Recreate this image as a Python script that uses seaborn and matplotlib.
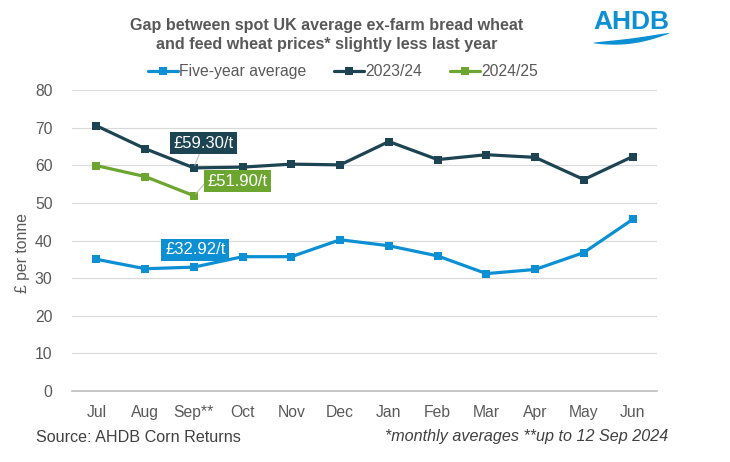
import numpy as np
import pandas as pd
import matplotlib.pyplot as plt
import seaborn as sns

# Data
months = ['Jul', 'Aug', 'Sep**', 'Oct', 'Nov', 'Dec', 'Jan', 'Feb', 'Mar', 'Apr', 'May', 'Jun']
five_year = [35.0, 32.5, 32.92, 35.7, 35.7, 40.2, 38.6, 35.9, 31.2, 32.3, 36.8, 45.6]
y2023 = [70.5, 64.4, 59.30, 59.5, 60.3, 60.1, 66.3, 61.5, 62.8, 62.1, 56.2, 62.3]
y2024 = [59.9, 57.0, 51.90]

series_names = ['Five-year average', '2023/24', '2024/25']
colors = ['#0C8FD3', '#1D4453', '#6CA52F']

rows = []
for name, vals in zip(series_names, [five_year, y2023, y2024]):
    for i, v in enumerate(vals):
        rows.append({'month': i, 'value': v, 'series': name})
df = pd.DataFrame(rows)

sns.set_theme(style='white')
plt.rcParams['font.family'] = ['Liberation Sans', 'DejaVu Sans']

fig = plt.figure(figsize=(7.3, 4.62), dpi=100)
ax = fig.add_axes([72 / 730, 1 - 391 / 462, 585 / 730, 301 / 462])

sns.lineplot(
    data=df, x='month', y='value', hue='series', hue_order=series_names,
    palette=colors, marker='s', markersize=5.5, markeredgewidth=0,
    linewidth=2.3, ax=ax, legend=True
)

ax.set_xlim(-0.5, 11.5)
ax.set_ylim(0, 80)
ax.set_yticks(range(0, 81, 10))
ax.set_xticks(range(12))
ax.set_xticklabels(months)
ax.tick_params(axis='both', length=0, labelsize=11.3, colors='#595959')
ax.tick_params(axis='x', pad=10)
ax.tick_params(axis='y', pad=14)
ax.grid(axis='y', color='#D9D9D9', linewidth=0.8)
ax.set_axisbelow(True)
for s in ['top', 'right', 'left']:
    ax.spines[s].set_visible(False)
ax.spines['bottom'].set_color('#BFBFBF')
ax.set_xlabel('')
ax.set_ylabel('£ per tonne', fontsize=11.3, color='#595959')
ax.yaxis.set_label_coords((30 - 72) / 585, (391 - 253) / 301)

leg = ax.legend(loc='lower center', bbox_to_anchor=(0.463, 1.0), ncol=3, frameon=False,
                fontsize=11.3, handlelength=1.9, columnspacing=1.75, handletextpad=0.1,
                borderaxespad=0.3)
for t in leg.get_texts():
    t.set_color('#595959')

# Value labels with leader lines
ax.annotate('£59.30/t', xy=(2, 59.3), xytext=(2.2, 65.9), fontsize=12, color='white',
            ha='center', va='center',
            bbox=dict(boxstyle='square,pad=0.22', fc=colors[1], ec='none'),
            arrowprops=dict(arrowstyle='-', color='#BFBFBF', lw=0.8, shrinkA=0, shrinkB=2,
                            relpos=(0.45, 0)))
ax.annotate('£51.90/t', xy=(2, 51.9), xytext=(2.9, 55.8), fontsize=12, color='white',
            ha='center', va='center',
            bbox=dict(boxstyle='square,pad=0.22', fc=colors[2], ec='none'),
            arrowprops=dict(arrowstyle='-', color='#BFBFBF', lw=0.8, shrinkA=0, shrinkB=2,
                            relpos=(0, 0.55)))
ax.annotate('£32.92/t', xy=(2, 32.92), xytext=(2.03, 37.5), fontsize=12, color='white',
            ha='center', va='center',
            bbox=dict(boxstyle='square,pad=0.22', fc=colors[0], ec='none'))

# Title
fig.text(0.447, 0.96, 'Gap between spot UK average ex-farm bread wheat\nand feed wheat prices* slightly less last year',
         ha='center', va='top', fontsize=11.6, fontweight='bold', color='#595959', linespacing=1.3)

# Footer
fig.text(36 / 730, 1 - 437 / 462, 'Source: AHDB Corn Returns', ha='left', va='center',
         fontsize=11.6, color='#404040')
fig.text(668 / 730, 1 - 437 / 462, '*monthly averages **up to 12 Sep 2024', ha='right', va='center',
         fontsize=11.6, color='#404040', style='italic')

# AHDB logo
fig.text(631 / 730, 1 - 22 / 462, 'AHDB', ha='center', va='center', fontsize=19,
         fontweight='bold', color='#0C8FD3')
t = np.linspace(0, 1, 80)
lx = 593 + 77 * t
mid = 43 - 10 * t + 3 * np.sin(t * np.pi)
half = 2.6 * np.sin(t * np.pi) ** 0.7
fig.patches.append(plt.Polygon(
    np.column_stack([np.r_[lx, lx[::-1]] / 730,
                     1 - np.r_[mid + half, (mid - half)[::-1]] / 462]),
    closed=True, transform=fig.transFigure, fc='#0C8FD3', ec='none'))

fig.savefig('out.png', dpi=100)
